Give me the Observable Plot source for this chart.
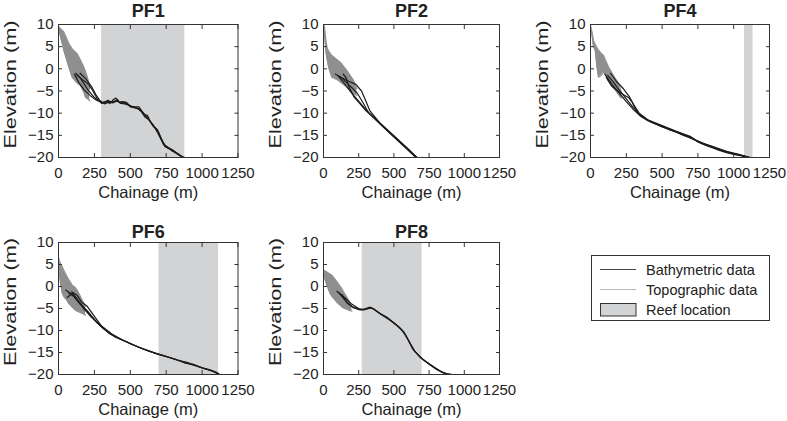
<!DOCTYPE html>
<html><head><meta charset="utf-8">
<script src="https://cdn.jsdelivr.net/npm/d3@7"></script>
<script src="https://cdn.jsdelivr.net/npm/@observablehq/plot@0.6"></script>
<style>
html,body{margin:0;padding:0;background:#fff;}
#chart{position:relative;width:787px;height:421px;font-family:"Liberation Sans",Arial,sans-serif;overflow:hidden;}
.panel{position:absolute;}
</style></head><body><div id="chart"></div>
<script>
// ---------- data ----------
const profiles = ["PF1", "PF2", "PF4", "PF6", "PF8"];
const xTicks = [0, 250, 500, 750, 1000, 1250];
const yTicks = [-20, -15, -10, -5, 0, 5, 10];
const xDomain = [0, 1250];
const yDomain = [-20, 10];
const xLabel = "Chainage (m)";
const yLabel = "Elevation (m)";
const legendLabels = ["Bathymetric data", "Topographic data", "Reef location"];

// reef location [start, end] (m)
const reefPF1 = [300, 880];
const reefPF2 = null;
const reefPF4 = [1075, 1135];
const reefPF6 = [700, 1115];
const reefPF8 = [275, 700];

// topographic envelope [chainage, upper, lower]
const topoPF1 = [[0,9.6,9.0],[10,9.2,7.8],[37,8.3,4.2],[72,5.7,0.4],[95,4.5,-1.9],[130,3.4,-3.2],[153,2.0,-3.8],[176,0.4,-5.2],[188,-0.6,-6.4],[204,-2.2,-6.8],[218,-4.5,-7.2]];
const topoPF2 = [[0,10,9.0],[7,9.5,8.0],[19,6.0,3.4],[24,4.9,2.5],[36,4.0,0.4],[59,3.0,-1.9],[107,1.8,-2.6],[119,1.5,-3.0],[166,-0.4,-4.1],[213,-2.6,-5.6],[237,-4.5,-6.0]];
const topoPF4 = [[0,9.8,9.0],[9,8.5,8.0],[21,6.4,5.0],[33,5.5,4.2],[45,4.8,0.5],[56,4.2,-1.9],[75,3.5,-1.5],[91,3.0,-0.7],[126,0.4,-2.5],[138,-0.3,-3.0],[161,-1.5,-4.2],[184,-2.7,-5.3],[196,-3.4,-5.8],[208,-4.5,-6.4],[219,-5.6,-6.6]];
const topoPF6 = [[0,6.7,6.0],[5,6.0,3.7],[14,5.2,0.7],[26,4.5,-1.5],[37,3.7,-2.3],[60,2.2,-3.2],[72,1.5,-3.9],[95,0.3,-4.7],[118,-0.3,-5.4],[130,-0.8,-5.6],[165,-3.1,-6.1],[188,-4.6,-6.5]];
const topoPF8 = [[0,3.7,3.0],[12,3.5,1.5],[24,3.3,0.3],[47,2.8,-1.6],[59,2.6,-2.2],[83,1.6,-3.1],[95,1.1,-3.6],[130,-0.5,-4.6],[142,-1.2,-4.9],[178,-3.1,-5.4],[202,-4.6,-5.6]];

// bathymetric surveys [chainage, elevation]
const bathyPF1 = [
  [[120,-1.0],[150,-2.0],[200,-4.5],[250,-6.5],[300,-7.6],[330,-7.4],[360,-7.8],[380,-7.0],[400,-6.6],[420,-7.5],[450,-7.4],[480,-7.8],[500,-8.4],[530,-8.6],[560,-8.6],[580,-9.5],[600,-10.3],[620,-10.5],[640,-12.0],[660,-13.0],[680,-13.5],[700,-14.5],[720,-16.0],[740,-17.5],[770,-18.0],[790,-18.5],[810,-18.8],[840,-19.5],[870,-20]],
  [[130,-1.5],[170,-2.5],[210,-3.5],[240,-5.0],[270,-6.8],[300,-7.8],[340,-7.3],[370,-7.5],[400,-7.2],[440,-7.7],[470,-7.5],[500,-8.6],[540,-8.8],[570,-9.3],[600,-10.8],[630,-11.5],[660,-12.8],[690,-13.8],[710,-15.5],[730,-17.0],[760,-17.8],[800,-18.6],[830,-19.2],[860,-19.8],[880,-20]],
  [[110,-1.2],[140,-3.0],[180,-4.8],[220,-6.0],[260,-7.0],[300,-7.5],[320,-7.9],[350,-7.5],[390,-7.4],[410,-6.9],[430,-7.8],[470,-7.9],[510,-8.5],[550,-8.9],[590,-10.0],[610,-10.8],[650,-12.3],[670,-13.2],[700,-15.0],[740,-17.2],[780,-18.1],[820,-19.0],[850,-19.6],[875,-20]],
  [[150,-1.0],[190,-2.2],[230,-4.0],[260,-5.8],[290,-7.2],[310,-7.7],[345,-7.1],[375,-7.7],[405,-7.3],[435,-7.6],[490,-8.2],[520,-8.7],[560,-9.0],[595,-10.2],[625,-11.2],[655,-12.5],[690,-14.2],[720,-16.3],[750,-17.6],[800,-18.4],[840,-19.3],[865,-20]]
];
const bathyPF2 = [
  [[85,-1.2],[130,-2.0],[170,-2.7],[230,-3.5],[270,-5.0],[300,-7.2],[330,-9.5],[400,-12.2],[500,-15.2],[600,-18.1],[665,-20]],
  [[100,-1.5],[150,-3.4],[200,-5.5],[250,-7.3],[300,-9.2],[400,-12.3],[500,-15.3],[600,-18.2],[660,-20]],
  [[140,-1.2],[160,-2.0],[180,-4.0],[220,-6.5],[260,-7.9],[300,-9.4],[400,-12.2],[500,-15.1],[600,-18.0],[662,-20]],
  [[120,-1.8],[160,-3.0],[200,-4.2],[240,-5.5],[280,-7.6],[320,-9.9],[400,-12.4],[500,-15.4],[600,-18.3],[655,-20]]
];
const bathyPF4 = [
  [[120,-1.5],[160,-3.0],[200,-4.8],[250,-6.8],[300,-8.8],[350,-10.5],[400,-11.6],[450,-12.3],[500,-12.9],[550,-13.6],[600,-14.2],[650,-14.8],[700,-15.4],[750,-16.5],[800,-17.2],[850,-17.8],[900,-18.4],[950,-18.9],[1000,-19.3],[1050,-19.6],[1100,-20]],
  [[100,-1.2],[150,-3.5],[200,-5.5],[250,-7.4],[300,-9.2],[350,-10.7],[400,-11.7],[450,-12.4],[500,-13.0],[550,-13.7],[600,-14.3],[650,-15.0],[700,-15.6],[750,-16.3],[800,-17.0],[850,-17.6],[900,-18.2],[950,-18.7],[1000,-19.1],[1050,-19.5],[1120,-20]],
  [[140,-1.0],[180,-2.8],[230,-4.5],[270,-6.2],[300,-8.0],[340,-10.0],[400,-11.5],[500,-12.8],[600,-14.1],[700,-15.3],[760,-16.6],[850,-17.5],[950,-18.6],[1050,-19.4],[1110,-20]],
  [[110,-2.0],[150,-4.0],[190,-5.0],[240,-6.0],[270,-6.6],[290,-7.5],[320,-9.5],[360,-10.8],[420,-11.9],[500,-13.1],[620,-14.5],[740,-16.2],[880,-18.0],[1000,-19.2],[1100,-19.9]]
];
const bathyPF6 = [
  [[50,-0.8],[100,-2.0],[150,-4.0],[200,-5.5],[250,-7.5],[300,-9.2],[350,-10.6],[400,-11.6],[480,-12.6],[560,-13.8],[640,-14.8],[700,-15.5],[760,-16.0],[830,-16.7],[900,-17.3],[960,-18.0],[1010,-18.6],[1060,-19.1],[1110,-19.8],[1125,-20]],
  [[70,-1.5],[120,-2.5],[170,-4.5],[220,-6.5],[270,-8.3],[320,-9.7],[380,-11.0],[450,-12.2],[520,-13.3],[600,-14.3],[680,-15.2],[750,-15.9],[820,-16.6],[880,-17.4],[940,-17.7],[1000,-18.5],[1050,-18.9],[1100,-19.5],[1120,-20]],
  [[60,-2.5],[100,-1.5],[130,-3.0],[180,-5.2],[230,-7.0],[290,-8.8],[340,-10.2],[420,-11.8],[500,-13.0],[620,-14.6],[720,-15.6],[850,-17.0],[980,-18.3],[1080,-19.3],[1118,-20]],
  [[90,-1.2],[130,-2.0],[160,-3.5],[200,-4.5],[250,-6.8],[300,-9.0],[360,-10.5]]
];
const bathyPF8 = [
  [[95,-1.1],[150,-2.5],[200,-4.0],[250,-5.0],[280,-5.2],[300,-5.0],[330,-4.7],[360,-5.2],[400,-6.2],[450,-7.0],[500,-8.3],[540,-9.3],[570,-10.3],[600,-12.0],[640,-14.5],[680,-15.8],[710,-16.7],[760,-17.9],[806,-18.9],[850,-19.6],[880,-20]],
  [[110,-1.5],[160,-3.4],[200,-4.5],[250,-5.2],[290,-5.3],[320,-4.9],[350,-5.0],[390,-5.9],[440,-6.8],[490,-8.0],[530,-9.0],[570,-10.5],[610,-12.6],[650,-14.8],[700,-16.4],[750,-17.6],[800,-18.7],[840,-19.5],[900,-20]],
  [[130,-1.8],[170,-3.8],[210,-4.8],[260,-5.3],[300,-5.2],[340,-4.8],[380,-5.6],[420,-6.6],[470,-7.6],[510,-8.6],[560,-10.0],[590,-11.4],[630,-14.0],[690,-16.2],[740,-17.3],[790,-18.4],[830,-19.2],[870,-19.8],[920,-20]]
];

// ---------- layout / style ----------
const reefs = [reefPF1, reefPF2, reefPF4, reefPF6, reefPF8];
const topos = [topoPF1, topoPF2, topoPF4, topoPF6, topoPF8];
const bathys = [bathyPF1, bathyPF2, bathyPF4, bathyPF6, bathyPF8];
const layout = [
  {left: 0,   top: 0,   w: 262, h: 210, mL: 58, mR: 24.5, mT: 24, mB: 53, tDy: -13},
  {left: 265, top: 0,   w: 262, h: 210, mL: 58, mR: 28,   mT: 24, mB: 53, tDy: -13},
  {left: 532, top: 0,   w: 255, h: 210, mL: 58, mR: 18,   mT: 24, mB: 53, tDy: -13},
  {left: 0,   top: 210, w: 262, h: 211, mL: 58, mR: 24.5, mT: 32, mB: 47, tDy: -10},
  {left: 265, top: 210, w: 262, h: 211, mL: 58, mR: 28,   mT: 32, mB: 47, tDy: -10}
];
const C = {reef: "#d2d3d5", topo: "#8f8f8f", bathy: "#1c1c1c", frame: "#333", text: "#222"};
const fmt = d => String(d).replace("-", "\u2212");

const chart = document.getElementById("chart");

profiles.forEach((name, i) => {
  const L = layout[i];
  const reef = reefs[i];
  const topoRows = topos[i].map(([x, u, l]) => ({x, u, l}));
  const bathyRows = bathys[i].flatMap((line, s) => line.map(([x, y]) => ({x, y, s})));
  const svg = Plot.plot({
    width: L.w, height: L.h,
    marginLeft: L.mL, marginRight: L.mR, marginTop: L.mT, marginBottom: L.mB,
    x: {domain: xDomain},
    y: {domain: yDomain},
    style: {fontFamily: "'Liberation Sans', Arial, sans-serif", fontSize: "15px", color: C.text, background: "transparent", overflow: "visible"},
    marks: [
      reef ? Plot.rect([reef], {x1: d => d[0], x2: d => d[1], y1: yDomain[0], y2: yDomain[1], fill: C.reef}) : null,
      Plot.areaY(topoRows, {x: "x", y1: "u", y2: "l", fill: C.topo, clip: true}),
      Plot.line(topoRows, {x: "x", y: "u", stroke: C.topo, strokeWidth: 1.2, clip: true}),
      Plot.line(topoRows, {x: "x", y: "l", stroke: C.topo, strokeWidth: 1.2, clip: true}),
      Plot.line(bathyRows, {x: "x", y: "y", z: "s", stroke: C.bathy, strokeWidth: 1.2, clip: true}),
      Plot.frame({stroke: C.frame}),
      Plot.axisX(xTicks, {anchor: "bottom", tickSize: 0, tickPadding: 10, tickFormat: fmt, label: null}),
      Plot.axisX(xTicks, {anchor: "bottom", tickSize: -4, tickFormat: () => "", label: null, stroke: C.frame}),
      Plot.axisX(xTicks, {anchor: "top", tickSize: -4, tickFormat: () => "", label: null, stroke: C.frame}),
      Plot.axisY(yTicks, {anchor: "left", tickSize: 0, tickPadding: 5, tickFormat: fmt, label: null}),
      Plot.axisY(yTicks, {anchor: "left", tickSize: -4, tickFormat: () => "", label: null, stroke: C.frame}),
      Plot.axisY(yTicks, {anchor: "right", tickSize: -4, tickFormat: () => "", label: null, stroke: C.frame}),
      Plot.text([name], {text: d => d, frameAnchor: "top", dy: L.tDy, fontSize: 18, fontWeight: "bold", fill: C.text, lineAnchor: "middle"}),
      Plot.text([xLabel], {text: d => d, frameAnchor: "bottom", dy: 35, fontSize: 16.5, fill: C.text, lineAnchor: "middle"})
    ]
  });
  // rotated y-axis label
  const cy = (L.mT + (L.h - L.mB)) / 2 - 6;
  d3.select(svg).append("text")
    .attr("transform", `translate(10,${cy}) rotate(-90)`)
    .attr("text-anchor", "middle")
    .attr("dy", "0.35em")
    .attr("font-size", 16.5)
    .attr("fill", C.text)
    .attr("textLength", 128)
    .attr("lengthAdjust", "spacingAndGlyphs")
    .text(yLabel);
  svg.classList.add("panel");
  svg.style.left = L.left + "px";
  svg.style.top = L.top + "px";
  chart.appendChild(svg);
});

// ---------- legend ----------
const lg = d3.select(chart).append("svg")
  .attr("class", "panel").attr("width", 787).attr("height", 421)
  .style("left", "0px").style("top", "0px")
  .style("font-family", "'Liberation Sans', Arial, sans-serif").style("font-size", "14.5px");
lg.append("rect").attr("x", 591.5).attr("y", 255.5).attr("width", 178).attr("height", 65)
  .attr("fill", "#fff").attr("stroke", C.frame);
lg.append("line").attr("x1", 600).attr("x2", 636).attr("y1", 269.5).attr("y2", 269.5).attr("stroke", "#444");
lg.append("line").attr("x1", 600).attr("x2", 636).attr("y1", 289.5).attr("y2", 289.5).attr("stroke", "#b8b8b8");
lg.append("rect").attr("x", 600.5).attr("y", 303.5).attr("width", 35.5).attr("height", 12.5)
  .attr("fill", C.reef).attr("stroke", C.frame);
legendLabels.forEach((t, i) => {
  lg.append("text").attr("x", 646).attr("y", 274.5 + 20 * i).attr("fill", C.text).text(t);
});
</script></body></html>
